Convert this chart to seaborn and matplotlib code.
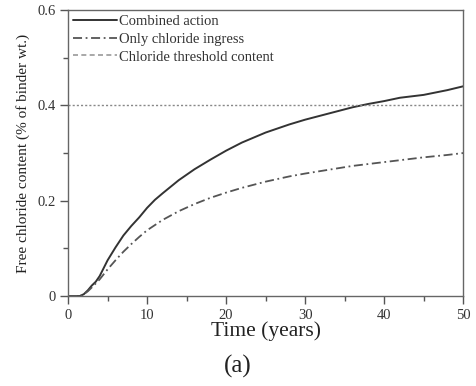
import matplotlib
matplotlib.use("Agg")
import matplotlib.pyplot as plt
import seaborn as sns
import numpy as np
import pandas as pd
from matplotlib.ticker import MultipleLocator
from matplotlib.lines import Line2D

# Data
t_combined = [0, 1.5, 2, 2.5, 3, 3.5, 4, 5, 6, 7, 8, 9, 10, 11, 12, 14, 16, 18, 20,
              22, 25, 28, 30, 33, 36, 38, 40, 42, 45, 48, 50]
c_combined = [0, 0, 0.004, 0.012, 0.022, 0.03, 0.042, 0.075, 0.102, 0.127, 0.147,
              0.165, 0.185, 0.202, 0.216, 0.243, 0.266, 0.286, 0.305,
              0.322, 0.343, 0.36, 0.37, 0.383, 0.396, 0.403, 0.409, 0.416, 0.422, 0.432, 0.44]
t_chloride = [0, 1.5, 2, 2.5, 3, 4, 5, 6, 7, 8, 9, 10, 12, 14, 16, 18, 20, 22, 25,
              28, 30, 33, 36, 40, 42, 45, 48, 50]
c_chloride = [0, 0, 0.004, 0.01, 0.018, 0.035, 0.056, 0.075, 0.093, 0.109, 0.124,
              0.138, 0.16, 0.178, 0.193, 0.206, 0.217, 0.227, 0.24,
              0.251, 0.257, 0.265, 0.273, 0.281, 0.285, 0.291, 0.296, 0.3]
threshold = 0.4
labels = ["Combined action", "Only chloride ingress", "Chloride threshold content"]

sns.set_theme(style="ticks")
plt.rcParams['font.family'] = ['Liberation Serif', 'DejaVu Serif']

fig = plt.figure(figsize=(4.76, 3.86), dpi=100)
ax = fig.add_axes([0.143, 0.233, 0.830, 0.741])

df1 = pd.DataFrame({"t": t_combined, "c": c_combined})
df2 = pd.DataFrame({"t": t_chloride, "c": c_chloride})
sns.lineplot(data=df1, x="t", y="c", ax=ax, color="#333333", lw=1.4, sort=False)
sns.lineplot(data=df2, x="t", y="c", ax=ax, color="#555555", lw=1.3,
             linestyle=(0, (5, 2, 1, 2)), sort=False)
ax.axhline(threshold, color="#888888", lw=1.0, linestyle=(0, (1.5, 1.5)))

ax.set_xlim(0, 50)
ax.set_ylim(0, 0.6)
ax.xaxis.set_major_locator(MultipleLocator(10))
ax.xaxis.set_minor_locator(MultipleLocator(5))
ax.yaxis.set_minor_locator(MultipleLocator(0.1))
ax.set_yticks([0, 0.2, 0.4, 0.6])
ax.set_yticklabels(["0", "0.2", "0.4", "0.6"])
ax.tick_params(axis="both", which="major", direction="out", length=6, width=1,
               color="#555555", labelsize=10.5, labelcolor="#333333", pad=3)
ax.tick_params(axis="both", which="minor", direction="out", length=3.5, width=1,
               color="#555555")
for s in ax.spines.values():
    s.set_color("#666666")
    s.set_linewidth(1.0)

ax.set_xlabel("Time (years)", fontsize=15.5, color="#222222", labelpad=0)
ax.set_ylabel("Free chloride content (% of binder wt.)", fontsize=11,
              color="#222222", labelpad=5)
fig.text(0.5, 0.035, "(a)", ha="center", fontsize=18, color="#222222")

handles = [
    Line2D([], [], color="#333333", lw=1.4),
    Line2D([], [], color="#555555", lw=1.3, linestyle=(0, (5, 2, 1, 2))),
    Line2D([], [], color="#999999", lw=1.2, linestyle=(0, (3, 2))),
]
leg = ax.legend(handles, labels, loc="upper left", frameon=False, fontsize=10.5,
                handlelength=3.0, handletextpad=0.15, borderaxespad=0.2,
                borderpad=0.15, labelspacing=0.3)
for text in leg.get_texts():
    text.set_color("#333333")

fig.savefig("out.png", dpi=100)
